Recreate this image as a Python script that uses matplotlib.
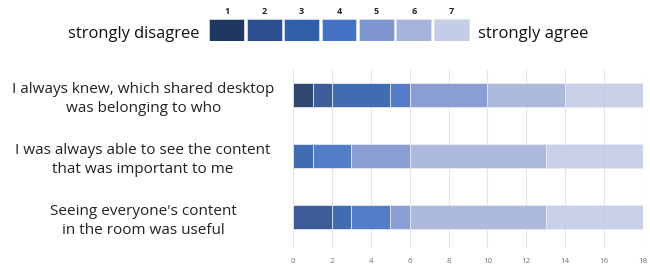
import numpy as np
import matplotlib.pyplot as plt

plt.rcParams['font.family'] = ['Open Sans', 'DejaVu Sans']

# Likert data (number of participants per answer 1..7)
questions = [
    "I always knew, which shared desktop\nwas belonging to who",
    "I was always able to see the content\nthat was important to me",
    "Seeing everyone's content\nin the room was useful",
]
scale = ["1", "2", "3", "4", "5", "6", "7"]
counts = [
    [1, 1, 3, 1, 4, 4, 4],
    [0, 0, 1, 2, 3, 7, 5],
    [0, 2, 1, 2, 1, 7, 5],
]
xticks = [0, 2, 4, 6, 8, 10, 12, 14, 16, 18]
colors = ["#1f3763", "#2c4f8f", "#3060ab", "#4472c4", "#8096d0", "#a6b4db", "#c4cde6"]

fig = plt.figure(figsize=(6.5, 2.7), dpi=100)

# main chart
ax = fig.add_axes([0.451, 0.081, 0.538, 0.66])
y = np.arange(len(questions))
left = np.zeros(len(questions))
data = np.array(counts)
for k in range(len(scale)):
    ax.barh(y, data[:, k], left=left, height=0.4, color=colors[k], alpha=0.92,
            edgecolor="#e8ecf6", linewidth=0.6, zorder=3)
    left += data[:, k]

ax.set_xlim(0, 18)
ax.set_ylim(2.51, -0.41)
ax.set_xticks(xticks)
ax.set_xticklabels([str(t) for t in xticks], fontsize=5.8, color="#707070")
ax.set_yticks(y)
ax.set_yticklabels(questions, fontsize=11, color="#222222", ha="center", linespacing=1.4)
ax.tick_params(axis="y", length=0, pad=108)
ax.tick_params(axis="x", length=0, pad=7)
ax.grid(axis="x", color="#e4e4e4", linewidth=0.8, zorder=0)
for s in ax.spines.values():
    s.set_visible(False)

# scale legend on top
lax = fig.add_axes([208 / 650, 1 - 41 / 270, 262 / 650, 22 / 270])
lax.bar(np.arange(7), 1, width=0.93, color=colors, edgecolor="#dde3f0", linewidth=0.5)
lax.set_xlim(-0.5, 6.5)
lax.set_ylim(0, 1)
for i, s in enumerate(scale):
    lax.text(i, 1.12, s, ha="center", va="bottom", fontsize=6.5, fontweight="bold", color="#222222")
lax.axis("off")

fig.text(68 / 650, 1 - 34 / 270, "strongly disagree", ha="left", va="center", fontsize=11.9, color="#111111")
fig.text(478 / 650, 1 - 34 / 270, "strongly agree", ha="left", va="center", fontsize=12, color="#111111")

fig.savefig("out.png", dpi=100)
